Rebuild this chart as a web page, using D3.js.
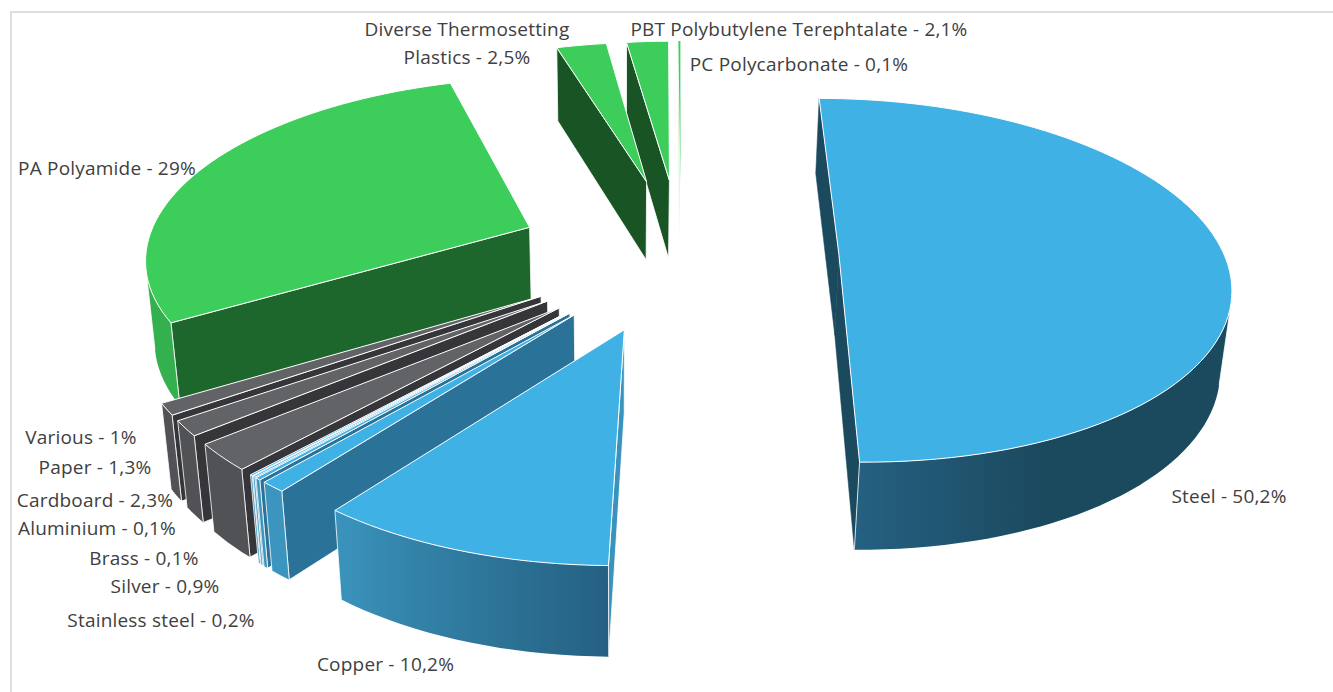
<!DOCTYPE html>
<html>
<head>
<meta charset="utf-8">
<script src="https://cdn.jsdelivr.net/npm/d3@7"></script>
<style>
  html, body { margin: 0; padding: 0; background: #fff; }
  text { font-family: "Open Sans", sans-serif; fill: #404040; letter-spacing: 0.2px; }
</style>
</head>
<body>
<div id="graph"></div>
<script>
const materials = ["Steel", "Copper", "Silver", "Stainless steel", "Brass", "Aluminium", "Cardboard", "Paper", "Various", "PA Polyamide", "Diverse Thermosetting Plastics", "PBT Polybutylene Terephtalate", "PC Polycarbonate"];
const shares = [50.2, 10.2, 0.9, 0.2, 0.1, 0.1, 2.3, 1.3, 1, 29, 2.5, 2.1, 0.1];
const groups = ["steel", "copper", "blue", "pale", "pale", "pale", "grey", "grey", "grey", "green", "dgreen", "dgreen", "faint"];

const width = 1333, height = 692;

// label anchors, picked by eye
const labelSpots = {
  "Steel": [1229, 503],
  "Copper": [385.5, 671],
  "Silver": [165, 593],
  "Stainless steel": [161, 627],
  "Brass": [144, 565],
  "Aluminium": [97, 535],
  "Cardboard": [95, 507],
  "Paper": [95, 474],
  "Various": [81, 444],
  "PA Polyamide": [107, 175],
  "PBT Polybutylene Terephtalate": [799, 36],
  "PC Polycarbonate": [799, 71]
};

const svg = d3.select("#graph")
  .append("svg")
    .attr("width", width)
    .attr("height", height);
const defs = svg.append("defs");

// frame
svg.append("path")
  .attr("d", d3.line()([[11, height], [11, 12], [width, 12]]))
  .attr("fill", "none")
  .attr("stroke", "#dedede")
  .attr("stroke-width", 2);

// perspective of the pie plane
const vanishX = 680, tilt = 0.1419;
const explodeBy = {steel: 0.41, copper: 0.425, blue: 0.42, pale: 0.42, grey: 0.42, green: 0.43, dgreen: 0.44, faint: 0.44};
const xs = d3.scaleLinear().domain([-1, 1]).range([-384, 386]);
const ys = d3.scaleLinear().domain([0, 1]).range([-1001, 254]);
const thick = d3.scaleLinear().domain([0, 1]).range([37.4, 80.4]);

function project(X, Y, bottom) {
  const s = 1 / (1 - tilt * Y);
  const u = vanishX + s * xs(X), v = ys(s);
  if (!bottom) return [u, v];
  const dv = thick(s);
  return [u + (620 - u) * dv / (4500 - v), v + dv];
}

const deg = a => a * 180 / Math.PI;
const blueShade = d3.scaleLinear().domain([157, 180, 218]).range(["#1b4a5f", "#245f80", "#3b95be"]).clamp(true);

const topFill = {steel: "#3fb1e5", copper: "#3fb1e5", blue: "#3fb1e5", pale: "#3fb1e5", grey: "#626367", green: "#3ccd5a", dgreen: "#3ccd5a", faint: "#3ccd5a"};
const sideFill = {steel: "#1b4a5f", copper: "#3a93bc", blue: "#2a7298", pale: "#2a7298", grey: "#36353a", green: "#1e672c", dgreen: "#195425", faint: "#e3efe6"};
const arcFill = {
  steel: a => blueShade(deg(a)),
  copper: a => blueShade(deg(a)),
  blue: a => "#3b95be",
  pale: a => "#3b95be",
  grey: a => "#515256",
  green: a => "#35b04f",
  dgreen: a => "#35b04f",
  faint: a => "#e3efe6"
};

const pie = d3.pie().sort(null).value(d => d.share);
const slices = pie(materials.map((name, i) => ({name, share: shares[i], group: groups[i]})));
const line = d3.line();

// back to front
slices.slice().reverse().forEach((d, k) => {
  const mid = (d.startAngle + d.endAngle) / 2;
  const grp = d.data.group;
  const E = explodeBy[grp];
  const ox = E * Math.sin(mid), oy = -E * Math.cos(mid);
  const rim = (a, bottom) => project(ox + Math.sin(a), oy - Math.cos(a), bottom);
  const apex = bottom => project(ox, oy, bottom);
  const g = svg.append("g");

  const n = Math.max(1, Math.ceil((d.endAngle - d.startAngle) / (Math.PI / 90)));
  const angles = d3.range(n + 1).map(i => d.startAngle + (d.endAngle - d.startAngle) * i / n);

  const startWall = [apex(false), rim(d.startAngle, false), rim(d.startAngle, true), apex(true)];
  const endWall = [rim(d.endAngle, false), apex(false), apex(true), rim(d.endAngle, true)];
  [endWall, startWall].forEach(poly => {
    if (d3.polygonArea(poly) > 0) {
      // steel shows both cut faces as one surface, so no line between them
      g.append("path").attr("d", line(poly) + "Z")
        .attr("fill", sideFill[grp])
        .attr("stroke", grp === "steel" ? sideFill[grp] : "#fff")
        .attr("stroke-width", grp === "steel" ? 0.5 : 0.8)
        .attr("stroke-linejoin", "round");
    }
  });

  // outer wall: one path, the light runs across it as a gradient
  const seen = angles.filter((a, i) => {
    const b = angles[i + 1];
    return b !== undefined && d3.polygonArea([rim(a, false), rim(b, false), rim(b, true), rim(a, true)]) > 0;
  });
  if (seen.length) {
    const lo = seen[0], hi = Math.min(seen[seen.length - 1] + (angles[1] - angles[0]), d.endAngle);
    const arcAngles = angles.filter(a => a >= lo - 1e-9 && a <= hi + 1e-9);
    const outline = arcAngles.map(a => rim(a, false)).concat(arcAngles.slice().reverse().map(a => rim(a, true)));
    const x0 = d3.min(outline, p => p[0]), x1 = d3.max(outline, p => p[0]);
    const id = "wall" + k;
    defs.append("linearGradient").attr("id", id)
      .attr("gradientUnits", "userSpaceOnUse")
      .attr("x1", x0).attr("x2", x1).attr("y1", 0).attr("y2", 0)
      .selectAll("stop")
      .data(arcAngles.slice().sort((a, b) => rim(a, false)[0] - rim(b, false)[0]))
      .join("stop")
        .attr("offset", a => (rim(a, false)[0] - x0) / Math.max(1, x1 - x0))
        .attr("stop-color", a => arcFill[grp](a));
    g.append("path").attr("d", line(outline) + "Z").attr("fill", `url(#${id})`);
    [lo, hi].forEach(a => {
      g.append("path").attr("d", line([rim(a, false), rim(a, true)]))
        .attr("stroke", "#fff").attr("stroke-width", 0.8).attr("fill", "none");
    });
  }

  const face = [apex(false)].concat(angles.map(a => rim(a, false)));
  g.append("path").attr("d", line(face) + "Z")
    .attr("fill", topFill[grp]).attr("stroke", grp === "faint" ? "none" : "#fff").attr("stroke-width", 1)
    .attr("stroke-linejoin", "round");
});

const pct = v => String(v).replace(".", ",") + "%";
const fontSize = 19;

materials.forEach((name, i) => {
  if (!labelSpots[name]) return;
  svg.append("text")
    .attr("x", labelSpots[name][0])
    .attr("y", labelSpots[name][1])
    .attr("text-anchor", "middle")
    .attr("font-size", fontSize)
    .text(name + " - " + pct(shares[i]));
});

// the long one breaks over two lines
const two = svg.append("text").attr("text-anchor", "middle").attr("font-size", fontSize);
two.append("tspan").attr("x", 467).attr("y", 36).text("Diverse Thermosetting");
two.append("tspan").attr("x", 467).attr("y", 64).text("Plastics - " + pct(shares[10]));
</script>
</body>
</html>
